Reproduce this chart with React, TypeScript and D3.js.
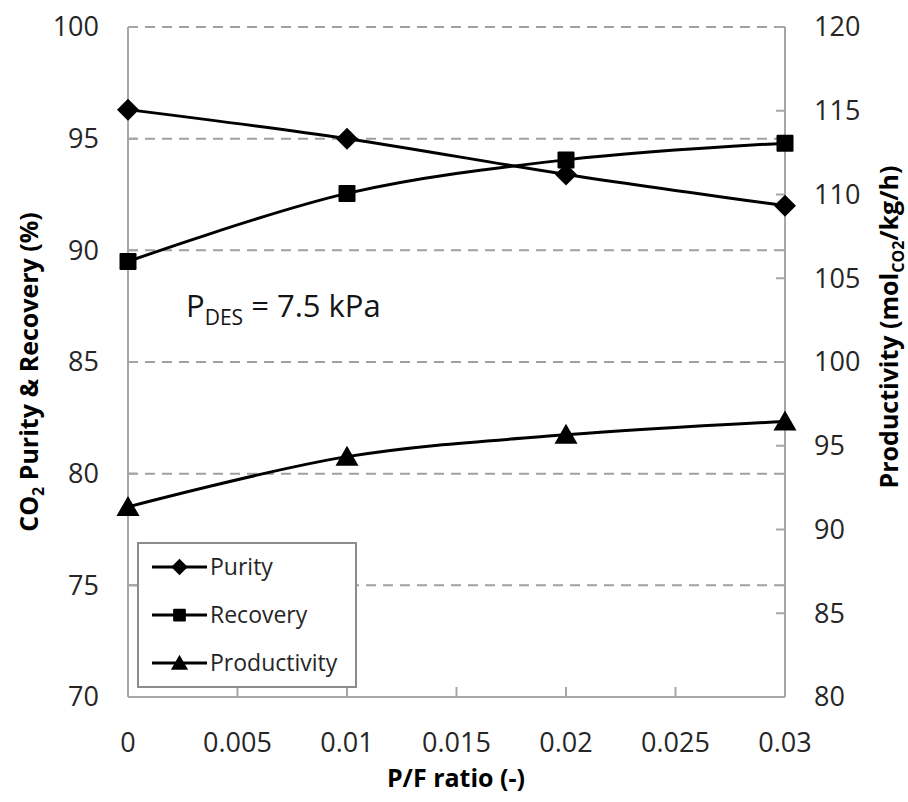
import React from "react";
import * as d3 from "d3";

// P/F ratio values (x) and the three measured series
const pfRatio = [0, 0.01, 0.02, 0.03];
const purity = [96.3, 95.0, 93.4, 92.0];
const recovery = [89.5, 92.55, 94.05, 94.8];
const productivity = [91.35, 94.35, 95.65, 96.45];

const xTicks = [0, 0.005, 0.01, 0.015, 0.02, 0.025, 0.03];
const leftTicks = [70, 75, 80, 85, 90, 95, 100];
const rightTicks = [80, 85, 90, 95, 100, 105, 110, 115, 120];
const legendLabels = ["Purity", "Recovery", "Productivity"];

const W = 908;
const H = 802;
const FONT = "'Open Sans', 'Noto Sans', sans-serif";

const x = d3.scaleLinear().domain([0, 0.03]).range([128, 785]);
const yL = d3.scaleLinear().domain([70, 100]).range([697, 27]);
const yR = d3.scaleLinear().domain([80, 120]).range([697, 27]);

type Shape = "diamond" | "square" | "triangle";

function Marker({ shape, cx, cy, s = 1 }: { shape: Shape; cx: number; cy: number; s?: number }) {
  if (shape === "diamond") {
    const r = 11 * s;
    return <path d={`M${cx},${cy - r}L${cx + r},${cy}L${cx},${cy + r}L${cx - r},${cy}Z`} fill="#000" />;
  }
  if (shape === "square") {
    const h = 8.5 * s;
    return <rect x={cx - h} y={cy - h} width={2 * h} height={2 * h} fill="#000" rx={1} />;
  }
  const w = 11.5 * s;
  return <path d={`M${cx},${cy - 11 * s}L${cx + w},${cy + 9 * s}L${cx - w},${cy + 9 * s}Z`} fill="#000" />;
}

export default function App() {
  const line = (scale: d3.ScaleLinear<number, number>) =>
    d3
      .line<number>()
      .x((_, i) => x(pfRatio[i]))
      .y((d) => scale(d))
      .curve(d3.curveCatmullRom.alpha(0.5));

  const series: { values: number[]; scale: d3.ScaleLinear<number, number>; shape: Shape }[] = [
    { values: purity, scale: yL, shape: "diamond" },
    { values: recovery, scale: yL, shape: "square" },
    { values: productivity, scale: yR, shape: "triangle" },
  ];
  const shapes: Shape[] = ["diamond", "square", "triangle"];

  const [x0, x1] = x.range();
  const [yb, yt] = yL.range();
  const axisColor = "#a6a6a6";
  const tickColor = "#262626";

  return (
    <svg
      width={W}
      height={H}
      style={{ position: "absolute", left: 0, top: 0, background: "#fff" }}
      fontFamily={FONT}
    >
      <rect width={W} height={H} fill="#fff" />

      {/* dashed horizontal gridlines */}
      {leftTicks
        .filter((t) => t > 70)
        .map((t) => (
          <line
            key={`g${t}`}
            x1={x0}
            x2={x1}
            y1={yL(t)}
            y2={yL(t)}
            stroke="#a0a0a0"
            strokeWidth={2}
            strokeDasharray="10,7"
          />
        ))}

      {/* axes frame */}
      <line x1={x0} x2={x0} y1={yt} y2={yb} stroke={axisColor} strokeWidth={2} />
      <line x1={x1} x2={x1} y1={yt} y2={yb} stroke={axisColor} strokeWidth={2} />
      <line x1={x0} x2={x1} y1={yb} y2={yb} stroke={axisColor} strokeWidth={2} />

      {/* left ticks + labels */}
      {leftTicks.map((t) => (
        <g key={`l${t}`}>
          <line x1={x0} x2={x0 + 9} y1={yL(t)} y2={yL(t)} stroke={axisColor} strokeWidth={2} />
          <text x={99} y={yL(t)} dy="0.35em" textAnchor="end" fontSize={27} fill={tickColor}>
            {t}
          </text>
        </g>
      ))}

      {/* right ticks + labels */}
      {rightTicks.map((t) => (
        <g key={`r${t}`}>
          <line x1={x1 - 9} x2={x1} y1={yR(t)} y2={yR(t)} stroke={axisColor} strokeWidth={2} />
          <text x={814} y={yR(t)} dy="0.35em" textAnchor="start" fontSize={27} fill={tickColor}>
            {t}
          </text>
        </g>
      ))}

      {/* bottom ticks + labels */}
      {xTicks.map((t) => (
        <g key={`x${t}`}>
          <line x1={x(t)} x2={x(t)} y1={yb} y2={yb - 10} stroke={axisColor} strokeWidth={2} />
          <text x={x(t)} y={743} dy="0.35em" textAnchor="middle" fontSize={27} fill={tickColor}>
            {String(+t.toFixed(3))}
          </text>
        </g>
      ))}

      {/* series */}
      {series.map((s, k) => (
        <g key={`s${k}`}>
          <path d={line(s.scale)(s.values) ?? ""} fill="none" stroke="#000" strokeWidth={3} />
          {s.values.map((v, i) => (
            <Marker key={i} shape={s.shape} cx={x(pfRatio[i])} cy={s.scale(v)} />
          ))}
        </g>
      ))}

      {/* annotation */}
      <text x={186} y={317} fontSize={31} fill="#141414">
        P
        <tspan fontSize={21} dy={8}>
          DES
        </tspan>
        <tspan dy={-8}> = 7.5 kPa</tspan>
      </text>

      {/* legend */}
      <rect x={138} y={543} width={218} height={144} fill="#fff" stroke="#8c8c8c" strokeWidth={2} />
      {legendLabels.map((lab, i) => {
        const cy = 567 + i * 48;
        return (
          <g key={lab}>
            <line x1={152} x2={207} y1={cy} y2={cy} stroke="#000" strokeWidth={3} />
            <Marker shape={shapes[i]} cx={179.5} cy={cy} s={0.75} />
            <text x={210} y={cy} dy="0.35em" fontSize={23} fill={tickColor}>
              {lab}
            </text>
          </g>
        );
      })}

      {/* axis titles */}
      <text x={456} y={778} dy="0.35em" textAnchor="middle" fontSize={25} fontWeight="bold" fill="#000">
        P/F ratio (-)
      </text>
      <text
        transform={`translate(38,372) rotate(-90)`}
        textAnchor="middle"
        fontSize={25}
        fontWeight="bold"
        fill="#000"
      >
        CO
        <tspan fontSize={16} dy={6}>
          2
        </tspan>
        <tspan dy={-6}> Purity &amp; Recovery (%)</tspan>
      </text>
      <text
        transform={`translate(898,327) rotate(-90)`}
        textAnchor="middle"
        fontSize={25}
        fontWeight="bold"
        fill="#000"
      >
        Productivity (mol
        <tspan fontSize={16} dy={6}>
          CO2
        </tspan>
        <tspan dy={-6}>/kg/h)</tspan>
      </text>
    </svg>
  );
}
